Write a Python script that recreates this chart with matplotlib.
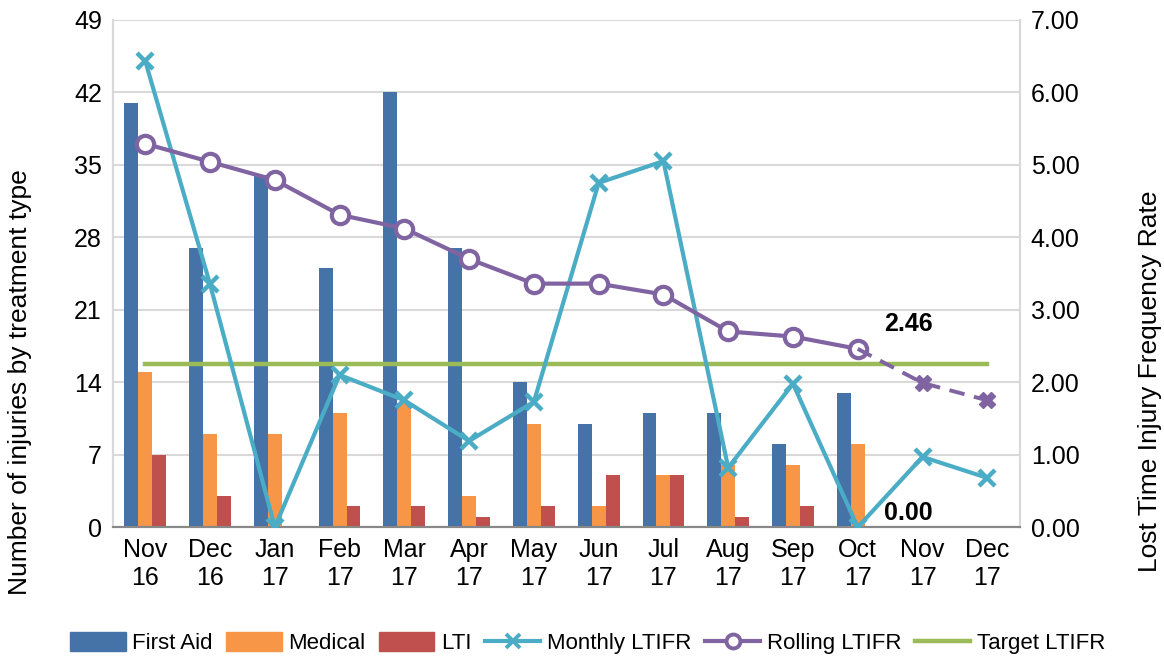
import numpy as np
import matplotlib.pyplot as plt
from matplotlib.lines import Line2D
from matplotlib.patches import Patch

# Dữ liệu
months = ["Nov\n16", "Dec\n16", "Jan\n17", "Feb\n17", "Mar\n17", "Apr\n17", "May\n17",
          "Jun\n17", "Jul\n17", "Aug\n17", "Sep\n17", "Oct\n17", "Nov\n17", "Dec\n17"]
first_aid = [41, 27, 34, 25, 42, 27, 14, 10, 11, 11, 8, 13]
medical = [15, 9, 9, 11, 12, 3, 10, 2, 5, 6, 6, 8]
lti = [7, 3, 0, 2, 2, 1, 2, 5, 5, 1, 2, 0]
monthly_ltifr = [6.43, 3.35, 0.00, 2.10, 1.75, 1.19, 1.73, 4.75, 5.05, 0.82, 1.98, 0.00, 0.97, 0.68]
rolling_ltifr = [5.29, 5.04, 4.79, 4.31, 4.12, 3.70, 3.36, 3.36, 3.21, 2.70, 2.63, 2.46]
rolling_forecast = [1.99, 1.75]
target_ltifr = 2.25

c_fa = "#4572A7"
c_med = "#F79646"
c_lti = "#C0504D"
c_month = "#4BACC6"
c_roll = "#8064A2"
c_target = "#9BBB59"

plt.rcParams['font.family'] = ['Liberation Sans', 'DejaVu Sans']

fig = plt.figure(figsize=(11.64, 6.59), dpi=100)
ax = fig.add_axes([0.097, 0.2, 0.779, 0.77])
ax2 = ax.twinx()

x = np.arange(len(months))
n = len(first_aid)
w = 0.215
ax.bar(x[:n] - w, first_aid, w, color=c_fa, zorder=2)
ax.bar(x[:n], medical, w, color=c_med, zorder=2)
ax.bar(x[:n] + w, lti, w, color=c_lti, zorder=2)

ax.set_xlim(-0.5, len(months) - 0.5)
ax.set_ylim(0, 49)
ax.set_yticks(np.arange(0, 50, 7))
ax.set_xticks(x)
ax.set_xticklabels(months)
ax.grid(axis='y', color='#d9d9d9', linewidth=1.5, zorder=0)
ax.set_axisbelow(True)
ax.tick_params(axis='both', labelsize=18, length=0, pad=8)
ax.set_ylabel("Number of injuries by treatment type", fontsize=19)
ax.yaxis.set_label_coords(-0.089, 0.286)

# Trục phải: LTIFR
ax2.plot(x, monthly_ltifr, color=c_month, lw=3, marker='x', ms=11, mew=3.2, zorder=4)
xr = x[:len(rolling_ltifr)]
ax2.plot(xr, rolling_ltifr, color=c_roll, lw=3, marker='o', ms=12.5,
         mfc='white', mec=c_roll, mew=3, zorder=5)
xf = x[len(rolling_ltifr) - 1:]
ax2.plot(xf, [rolling_ltifr[-1]] + rolling_forecast, color=c_roll, lw=2.8,
         ls=(0, (4, 2.5)), zorder=5)
ax2.plot(xf[1:], rolling_forecast, color=c_roll, lw=0, marker='X', ms=12, zorder=5)
ax2.plot([x[0], x[-1]], [target_ltifr, target_ltifr], color=c_target, lw=3.2, zorder=3)

ax2.set_ylim(0, 7)
ax2.set_yticks(np.arange(0, 7.01, 1))
ax2.set_yticklabels([f"{v:.2f}" for v in np.arange(0, 7.01, 1)])
ax2.tick_params(axis='y', labelsize=18, length=0, pad=8)
ax2.set_ylabel("Lost Time Injury Frequency Rate", fontsize=19, rotation=90)
ax2.yaxis.set_label_coords(1.131, 0.288)

ax2.text(x[11] + 0.4, rolling_ltifr[-1] + 0.18, f"{rolling_ltifr[-1]:.2f}",
         fontsize=18, fontweight='bold', ha='left', va='bottom')
ax2.text(x[11] + 0.4, monthly_ltifr[11] + 0.03, f"{monthly_ltifr[11]:.2f}",
         fontsize=18, fontweight='bold', ha='left', va='bottom')

for a in (ax, ax2):
    a.spines['top'].set_visible(False)
    a.spines['left'].set_color('#d9d9d9')
    a.spines['right'].set_color('#d9d9d9')
    a.spines['bottom'].set_color('#888888')
    a.spines['left'].set_linewidth(1.5)
    a.spines['right'].set_linewidth(1.5)
    a.spines['bottom'].set_linewidth(1.5)

handles = [
    Patch(color=c_fa, label="First Aid"),
    Patch(color=c_med, label="Medical"),
    Patch(color=c_lti, label="LTI"),
    Line2D([], [], color=c_month, lw=3, marker='x', ms=10, mew=2.8, label="Monthly LTIFR"),
    Line2D([], [], color=c_roll, lw=3, marker='o', ms=10, mfc='white', mew=2.8, label="Rolling LTIFR"),
    Line2D([], [], color=c_target, lw=3.2, label="Target LTIFR"),
]
fig.legend(handles=handles, loc='center', bbox_to_anchor=(0.505, 0.024), ncol=6,
           frameon=False, handlelength=2.5, handleheight=0.9, columnspacing=0.6,
           handletextpad=0.3, prop={'size': 16})

fig.savefig("out.png", dpi=100)
